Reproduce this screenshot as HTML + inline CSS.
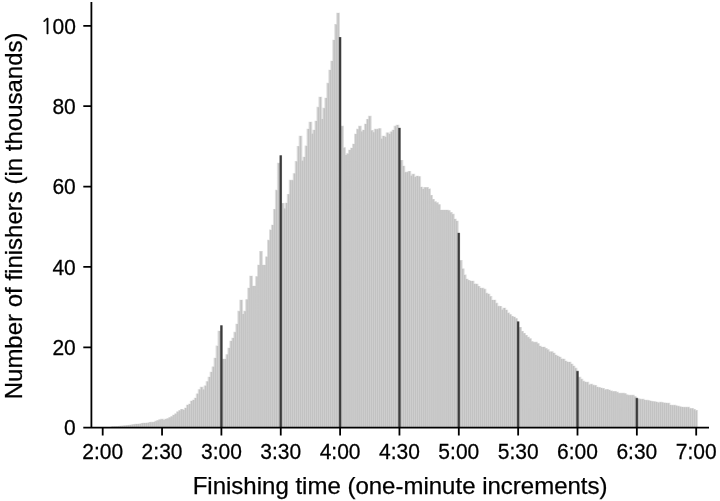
<!DOCTYPE html>
<html><head><meta charset="utf-8"><title>Marathon finishing times</title>
<style>html,body{margin:0;padding:0;background:#fff;}body{width:720px;height:501px;overflow:hidden;}svg{display:block;}</style>
</head><body><svg width="720" height="501" viewBox="0 0 720 501" font-family="'Liberation Sans', Arial, Helvetica, sans-serif"><path fill="#c2c2c2" fill-opacity="0.55" d="M110.72 426.25h3.75V427.6h-3.75zM112.69 426.15h3.75V427.6h-3.75zM114.67 426.05h3.75V427.6h-3.75zM116.65 425.95h3.75V427.6h-3.75zM118.63 425.75h3.75V427.6h-3.75zM120.61 425.55h3.75V427.6h-3.75zM122.59 425.35h3.75V427.6h-3.75zM124.56 425.15h3.75V427.6h-3.75zM126.54 424.95h3.75V427.6h-3.75zM128.52 424.75h3.75V427.6h-3.75zM130.50 424.45h3.75V427.6h-3.75zM132.48 424.05h3.75V427.6h-3.75zM134.46 423.75h3.75V427.6h-3.75zM136.43 423.65h3.75V427.6h-3.75zM138.41 423.55h3.75V427.6h-3.75zM140.39 422.95h3.75V427.6h-3.75zM142.37 422.75h3.75V427.6h-3.75zM144.35 422.75h3.75V427.6h-3.75zM146.33 422.55h3.75V427.6h-3.75zM148.30 421.95h3.75V427.6h-3.75zM150.28 421.85h3.75V427.6h-3.75zM152.26 421.75h3.75V427.6h-3.75zM154.24 420.85h3.75V427.6h-3.75zM156.22 420.05h3.75V427.6h-3.75zM158.20 419.35h3.75V427.6h-3.75zM160.17 418.85h3.75V427.6h-3.75zM162.15 419.75h3.75V427.6h-3.75zM164.13 418.65h3.75V427.6h-3.75zM166.11 418.15h3.75V427.6h-3.75zM168.09 417.25h3.75V427.6h-3.75zM170.07 416.15h3.75V427.6h-3.75zM172.04 414.65h3.75V427.6h-3.75zM174.02 413.45h3.75V427.6h-3.75zM176.00 411.45h3.75V427.6h-3.75zM177.98 410.15h3.75V427.6h-3.75zM179.96 408.95h3.75V427.6h-3.75zM181.94 409.65h3.75V427.6h-3.75zM183.91 407.75h3.75V427.6h-3.75zM185.89 404.75h3.75V427.6h-3.75zM187.87 403.75h3.75V427.6h-3.75zM189.85 400.65h3.75V427.6h-3.75zM191.83 399.65h3.75V427.6h-3.75zM193.81 397.65h3.75V427.6h-3.75zM195.78 393.45h3.75V427.6h-3.75zM197.76 389.25h3.75V427.6h-3.75zM199.74 386.85h3.75V427.6h-3.75zM201.72 389.25h3.75V427.6h-3.75zM203.70 385.45h3.75V427.6h-3.75zM205.67 381.25h3.75V427.6h-3.75zM207.65 376.65h3.75V427.6h-3.75zM209.63 371.75h3.75V427.6h-3.75zM211.61 366.45h3.75V427.6h-3.75zM213.59 357.65h3.75V427.6h-3.75zM215.57 345.55h3.75V427.6h-3.75zM217.54 330.65h3.75V427.6h-3.75zM221.50 358.65h3.75V427.6h-3.75zM223.48 358.65h3.75V427.6h-3.75zM225.46 354.15h3.75V427.6h-3.75zM227.44 347.75h3.75V427.6h-3.75zM229.41 340.75h3.75V427.6h-3.75zM231.39 337.75h3.75V427.6h-3.75zM233.37 331.85h3.75V427.6h-3.75zM235.35 323.75h3.75V427.6h-3.75zM237.33 310.85h3.75V427.6h-3.75zM239.31 299.65h3.75V427.6h-3.75zM241.28 313.65h3.75V427.6h-3.75zM243.26 310.85h3.75V427.6h-3.75zM245.24 299.25h3.75V427.6h-3.75zM247.22 287.65h3.75V427.6h-3.75zM249.20 275.75h3.75V427.6h-3.75zM251.18 285.65h3.75V427.6h-3.75zM253.15 285.65h3.75V427.6h-3.75zM255.13 276.15h3.75V427.6h-3.75zM257.11 264.65h3.75V427.6h-3.75zM259.09 251.05h3.75V427.6h-3.75zM261.07 264.65h3.75V427.6h-3.75zM263.05 264.65h3.75V427.6h-3.75zM265.02 256.45h3.75V427.6h-3.75zM267.00 239.85h3.75V427.6h-3.75zM268.98 229.55h3.75V427.6h-3.75zM270.96 224.75h3.75V427.6h-3.75zM272.94 208.95h3.75V427.6h-3.75zM274.92 189.85h3.75V427.6h-3.75zM276.89 162.85h3.75V427.6h-3.75zM280.85 202.95h3.75V427.6h-3.75zM282.83 208.25h3.75V427.6h-3.75zM284.81 202.65h3.75V427.6h-3.75zM286.79 193.95h3.75V427.6h-3.75zM288.76 179.85h3.75V427.6h-3.75zM290.74 179.85h3.75V427.6h-3.75zM292.72 173.15h3.75V427.6h-3.75zM294.70 161.05h3.75V427.6h-3.75zM296.68 145.95h3.75V427.6h-3.75zM298.65 135.65h3.75V427.6h-3.75zM300.63 160.35h3.75V427.6h-3.75zM302.61 156.65h3.75V427.6h-3.75zM304.59 145.55h3.75V427.6h-3.75zM306.57 128.75h3.75V427.6h-3.75zM308.55 121.75h3.75V427.6h-3.75zM310.52 133.35h3.75V427.6h-3.75zM312.50 129.75h3.75V427.6h-3.75zM314.48 120.65h3.75V427.6h-3.75zM316.46 106.85h3.75V427.6h-3.75zM318.44 96.75h3.75V427.6h-3.75zM320.42 118.65h3.75V427.6h-3.75zM322.39 107.85h3.75V427.6h-3.75zM324.37 97.75h3.75V427.6h-3.75zM326.35 82.85h3.75V427.6h-3.75zM328.33 69.65h3.75V427.6h-3.75zM330.31 60.65h3.75V427.6h-3.75zM332.29 39.65h3.75V427.6h-3.75zM334.26 24.05h3.75V427.6h-3.75zM336.24 12.75h3.75V427.6h-3.75zM340.20 125.85h3.75V427.6h-3.75zM342.18 147.35h3.75V427.6h-3.75zM344.16 154.55h3.75V427.6h-3.75zM346.13 153.35h3.75V427.6h-3.75zM348.11 149.75h3.75V427.6h-3.75zM350.09 147.75h3.75V427.6h-3.75zM352.07 143.75h3.75V427.6h-3.75zM354.05 133.65h3.75V427.6h-3.75zM356.03 128.85h3.75V427.6h-3.75zM358.00 125.85h3.75V427.6h-3.75zM359.98 131.25h3.75V427.6h-3.75zM361.96 129.75h3.75V427.6h-3.75zM363.94 123.75h3.75V427.6h-3.75zM365.92 118.95h3.75V427.6h-3.75zM367.90 115.85h3.75V427.6h-3.75zM369.87 130.05h3.75V427.6h-3.75zM371.85 131.85h3.75V427.6h-3.75zM373.83 128.85h3.75V427.6h-3.75zM375.81 128.85h3.75V427.6h-3.75zM377.79 128.25h3.75V427.6h-3.75zM379.77 138.35h3.75V427.6h-3.75zM381.74 135.75h3.75V427.6h-3.75zM383.72 136.55h3.75V427.6h-3.75zM385.70 132.45h3.75V427.6h-3.75zM387.68 133.65h3.75V427.6h-3.75zM389.66 131.45h3.75V427.6h-3.75zM391.64 129.75h3.75V427.6h-3.75zM393.61 125.85h3.75V427.6h-3.75zM395.59 124.65h3.75V427.6h-3.75zM399.55 159.95h3.75V427.6h-3.75zM401.53 165.65h3.75V427.6h-3.75zM403.50 171.85h3.75V427.6h-3.75zM405.48 171.85h3.75V427.6h-3.75zM407.46 170.95h3.75V427.6h-3.75zM409.44 175.35h3.75V427.6h-3.75zM411.42 173.85h3.75V427.6h-3.75zM413.40 176.65h3.75V427.6h-3.75zM415.37 175.75h3.75V427.6h-3.75zM417.35 176.25h3.75V427.6h-3.75zM419.33 186.75h3.75V427.6h-3.75zM421.31 188.55h3.75V427.6h-3.75zM423.29 187.05h3.75V427.6h-3.75zM425.27 187.05h3.75V427.6h-3.75zM427.24 188.55h3.75V427.6h-3.75zM429.22 194.95h3.75V427.6h-3.75zM431.20 198.95h3.75V427.6h-3.75zM433.18 201.35h3.75V427.6h-3.75zM435.16 202.35h3.75V427.6h-3.75zM437.14 204.15h3.75V427.6h-3.75zM439.11 209.65h3.75V427.6h-3.75zM441.09 209.65h3.75V427.6h-3.75zM443.07 209.65h3.75V427.6h-3.75zM445.05 209.65h3.75V427.6h-3.75zM447.03 210.25h3.75V427.6h-3.75zM449.01 212.05h3.75V427.6h-3.75zM450.98 213.85h3.75V427.6h-3.75zM452.96 218.65h3.75V427.6h-3.75zM454.94 220.75h3.75V427.6h-3.75zM458.90 260.05h3.75V427.6h-3.75zM460.88 268.45h3.75V427.6h-3.75zM462.85 274.55h3.75V427.6h-3.75zM464.83 278.75h3.75V427.6h-3.75zM466.81 279.95h3.75V427.6h-3.75zM468.79 280.75h3.75V427.6h-3.75zM470.77 280.75h3.75V427.6h-3.75zM472.75 283.55h3.75V427.6h-3.75zM474.72 283.75h3.75V427.6h-3.75zM476.70 285.95h3.75V427.6h-3.75zM478.68 287.65h3.75V427.6h-3.75zM480.66 287.85h3.75V427.6h-3.75zM482.64 288.85h3.75V427.6h-3.75zM484.62 292.85h3.75V427.6h-3.75zM486.59 293.75h3.75V427.6h-3.75zM488.57 296.05h3.75V427.6h-3.75zM490.55 299.75h3.75V427.6h-3.75zM492.53 299.75h3.75V427.6h-3.75zM494.51 302.85h3.75V427.6h-3.75zM496.48 305.85h3.75V427.6h-3.75zM498.46 305.95h3.75V427.6h-3.75zM500.44 309.35h3.75V427.6h-3.75zM502.42 307.75h3.75V427.6h-3.75zM504.40 309.65h3.75V427.6h-3.75zM506.38 312.55h3.75V427.6h-3.75zM508.35 314.15h3.75V427.6h-3.75zM510.33 315.95h3.75V427.6h-3.75zM512.31 316.65h3.75V427.6h-3.75zM514.29 318.15h3.75V427.6h-3.75zM518.25 326.95h3.75V427.6h-3.75zM520.22 330.95h3.75V427.6h-3.75zM522.20 332.95h3.75V427.6h-3.75zM524.18 334.95h3.75V427.6h-3.75zM526.16 336.85h3.75V427.6h-3.75zM528.14 338.35h3.75V427.6h-3.75zM530.12 341.15h3.75V427.6h-3.75zM532.09 341.85h3.75V427.6h-3.75zM534.07 341.85h3.75V427.6h-3.75zM536.05 343.15h3.75V427.6h-3.75zM538.03 345.75h3.75V427.6h-3.75zM540.01 346.75h3.75V427.6h-3.75zM541.99 346.75h3.75V427.6h-3.75zM543.96 348.05h3.75V427.6h-3.75zM545.94 349.35h3.75V427.6h-3.75zM547.92 351.35h3.75V427.6h-3.75zM549.90 351.35h3.75V427.6h-3.75zM551.88 352.75h3.75V427.6h-3.75zM553.86 354.75h3.75V427.6h-3.75zM555.83 355.75h3.75V427.6h-3.75zM557.81 356.75h3.75V427.6h-3.75zM559.79 358.55h3.75V427.6h-3.75zM561.77 358.75h3.75V427.6h-3.75zM563.75 360.75h3.75V427.6h-3.75zM565.73 361.75h3.75V427.6h-3.75zM567.70 361.75h3.75V427.6h-3.75zM569.68 363.65h3.75V427.6h-3.75zM571.66 365.65h3.75V427.6h-3.75zM573.64 367.85h3.75V427.6h-3.75zM577.60 376.85h3.75V427.6h-3.75zM579.57 378.85h3.75V427.6h-3.75zM581.55 380.85h3.75V427.6h-3.75zM583.53 381.65h3.75V427.6h-3.75zM585.51 381.85h3.75V427.6h-3.75zM587.49 384.45h3.75V427.6h-3.75zM589.47 383.85h3.75V427.6h-3.75zM591.44 384.85h3.75V427.6h-3.75zM593.42 385.05h3.75V427.6h-3.75zM595.40 386.75h3.75V427.6h-3.75zM597.38 387.05h3.75V427.6h-3.75zM599.36 387.75h3.75V427.6h-3.75zM601.33 388.05h3.75V427.6h-3.75zM603.31 389.35h3.75V427.6h-3.75zM605.29 389.05h3.75V427.6h-3.75zM607.27 389.75h3.75V427.6h-3.75zM609.25 390.55h3.75V427.6h-3.75zM611.23 391.05h3.75V427.6h-3.75zM613.20 391.05h3.75V427.6h-3.75zM615.18 391.85h3.75V427.6h-3.75zM617.16 392.95h3.75V427.6h-3.75zM619.14 392.85h3.75V427.6h-3.75zM621.12 392.85h3.75V427.6h-3.75zM623.10 393.15h3.75V427.6h-3.75zM625.07 394.45h3.75V427.6h-3.75zM627.05 394.85h3.75V427.6h-3.75zM629.03 394.85h3.75V427.6h-3.75zM631.01 394.85h3.75V427.6h-3.75zM632.99 396.15h3.75V427.6h-3.75zM636.94 398.45h3.75V427.6h-3.75zM638.92 398.85h3.75V427.6h-3.75zM640.90 398.85h3.75V427.6h-3.75zM642.88 399.65h3.75V427.6h-3.75zM644.86 399.85h3.75V427.6h-3.75zM646.84 400.15h3.75V427.6h-3.75zM648.81 400.75h3.75V427.6h-3.75zM650.79 401.05h3.75V427.6h-3.75zM652.77 401.35h3.75V427.6h-3.75zM654.75 401.75h3.75V427.6h-3.75zM656.73 402.35h3.75V427.6h-3.75zM658.71 401.85h3.75V427.6h-3.75zM660.68 402.25h3.75V427.6h-3.75zM662.66 402.55h3.75V427.6h-3.75zM664.64 402.65h3.75V427.6h-3.75zM666.62 402.85h3.75V427.6h-3.75zM668.60 404.65h3.75V427.6h-3.75zM670.58 404.85h3.75V427.6h-3.75zM672.55 404.85h3.75V427.6h-3.75zM674.53 405.45h3.75V427.6h-3.75zM676.51 405.85h3.75V427.6h-3.75zM678.49 406.45h3.75V427.6h-3.75zM680.47 406.65h3.75V427.6h-3.75zM682.45 406.85h3.75V427.6h-3.75zM684.42 406.85h3.75V427.6h-3.75zM686.40 406.85h3.75V427.6h-3.75zM688.38 408.05h3.75V427.6h-3.75zM690.36 408.05h3.75V427.6h-3.75zM692.34 409.05h3.75V427.6h-3.75zM694.32 410.05h3.75V427.6h-3.75z"/><path fill="#c2c2c2" d="M111.82 426.60h1.55V427.6h-1.55zM113.79 426.50h1.55V427.6h-1.55zM115.77 426.40h1.55V427.6h-1.55zM117.75 426.30h1.55V427.6h-1.55zM119.73 426.10h1.55V427.6h-1.55zM121.71 425.90h1.55V427.6h-1.55zM123.69 425.70h1.55V427.6h-1.55zM125.66 425.50h1.55V427.6h-1.55zM127.64 425.30h1.55V427.6h-1.55zM129.62 425.10h1.55V427.6h-1.55zM131.60 424.80h1.55V427.6h-1.55zM133.58 424.40h1.55V427.6h-1.55zM135.56 424.10h1.55V427.6h-1.55zM137.53 424.00h1.55V427.6h-1.55zM139.51 423.90h1.55V427.6h-1.55zM141.49 423.30h1.55V427.6h-1.55zM143.47 423.10h1.55V427.6h-1.55zM145.45 423.10h1.55V427.6h-1.55zM147.43 422.90h1.55V427.6h-1.55zM149.40 422.30h1.55V427.6h-1.55zM151.38 422.20h1.55V427.6h-1.55zM153.36 422.10h1.55V427.6h-1.55zM155.34 421.20h1.55V427.6h-1.55zM157.32 420.40h1.55V427.6h-1.55zM159.30 419.70h1.55V427.6h-1.55zM161.27 419.20h1.55V427.6h-1.55zM163.25 420.10h1.55V427.6h-1.55zM165.23 419.00h1.55V427.6h-1.55zM167.21 418.50h1.55V427.6h-1.55zM169.19 417.60h1.55V427.6h-1.55zM171.17 416.50h1.55V427.6h-1.55zM173.14 415.00h1.55V427.6h-1.55zM175.12 413.80h1.55V427.6h-1.55zM177.10 411.80h1.55V427.6h-1.55zM179.08 410.50h1.55V427.6h-1.55zM181.06 409.30h1.55V427.6h-1.55zM183.04 410.00h1.55V427.6h-1.55zM185.01 408.10h1.55V427.6h-1.55zM186.99 405.10h1.55V427.6h-1.55zM188.97 404.10h1.55V427.6h-1.55zM190.95 401.00h1.55V427.6h-1.55zM192.93 400.00h1.55V427.6h-1.55zM194.91 398.00h1.55V427.6h-1.55zM196.88 393.80h1.55V427.6h-1.55zM198.86 389.60h1.55V427.6h-1.55zM200.84 387.20h1.55V427.6h-1.55zM202.82 389.60h1.55V427.6h-1.55zM204.80 385.80h1.55V427.6h-1.55zM206.77 381.60h1.55V427.6h-1.55zM208.75 377.00h1.55V427.6h-1.55zM210.73 372.10h1.55V427.6h-1.55zM212.71 366.80h1.55V427.6h-1.55zM214.69 358.00h1.55V427.6h-1.55zM216.67 345.90h1.55V427.6h-1.55zM218.64 331.00h1.55V427.6h-1.55zM222.60 359.00h1.55V427.6h-1.55zM224.58 359.00h1.55V427.6h-1.55zM226.56 354.50h1.55V427.6h-1.55zM228.54 348.10h1.55V427.6h-1.55zM230.51 341.10h1.55V427.6h-1.55zM232.49 338.10h1.55V427.6h-1.55zM234.47 332.20h1.55V427.6h-1.55zM236.45 324.10h1.55V427.6h-1.55zM238.43 311.20h1.55V427.6h-1.55zM240.41 300.00h1.55V427.6h-1.55zM242.38 314.00h1.55V427.6h-1.55zM244.36 311.20h1.55V427.6h-1.55zM246.34 299.60h1.55V427.6h-1.55zM248.32 288.00h1.55V427.6h-1.55zM250.30 276.10h1.55V427.6h-1.55zM252.28 286.00h1.55V427.6h-1.55zM254.25 286.00h1.55V427.6h-1.55zM256.23 276.50h1.55V427.6h-1.55zM258.21 265.00h1.55V427.6h-1.55zM260.19 251.40h1.55V427.6h-1.55zM262.17 265.00h1.55V427.6h-1.55zM264.15 265.00h1.55V427.6h-1.55zM266.12 256.80h1.55V427.6h-1.55zM268.10 240.20h1.55V427.6h-1.55zM270.08 229.90h1.55V427.6h-1.55zM272.06 225.10h1.55V427.6h-1.55zM274.04 209.30h1.55V427.6h-1.55zM276.02 190.20h1.55V427.6h-1.55zM277.99 163.20h1.55V427.6h-1.55zM281.95 203.30h1.55V427.6h-1.55zM283.93 208.60h1.55V427.6h-1.55zM285.91 203.00h1.55V427.6h-1.55zM287.89 194.30h1.55V427.6h-1.55zM289.86 180.20h1.55V427.6h-1.55zM291.84 180.20h1.55V427.6h-1.55zM293.82 173.50h1.55V427.6h-1.55zM295.80 161.40h1.55V427.6h-1.55zM297.78 146.30h1.55V427.6h-1.55zM299.75 136.00h1.55V427.6h-1.55zM301.73 160.70h1.55V427.6h-1.55zM303.71 157.00h1.55V427.6h-1.55zM305.69 145.90h1.55V427.6h-1.55zM307.67 129.10h1.55V427.6h-1.55zM309.65 122.10h1.55V427.6h-1.55zM311.62 133.70h1.55V427.6h-1.55zM313.60 130.10h1.55V427.6h-1.55zM315.58 121.00h1.55V427.6h-1.55zM317.56 107.20h1.55V427.6h-1.55zM319.54 97.10h1.55V427.6h-1.55zM321.52 119.00h1.55V427.6h-1.55zM323.49 108.20h1.55V427.6h-1.55zM325.47 98.10h1.55V427.6h-1.55zM327.45 83.20h1.55V427.6h-1.55zM329.43 70.00h1.55V427.6h-1.55zM331.41 61.00h1.55V427.6h-1.55zM333.39 40.00h1.55V427.6h-1.55zM335.36 24.40h1.55V427.6h-1.55zM337.34 13.10h1.55V427.6h-1.55zM341.30 126.20h1.55V427.6h-1.55zM343.28 147.70h1.55V427.6h-1.55zM345.26 154.90h1.55V427.6h-1.55zM347.23 153.70h1.55V427.6h-1.55zM349.21 150.10h1.55V427.6h-1.55zM351.19 148.10h1.55V427.6h-1.55zM353.17 144.10h1.55V427.6h-1.55zM355.15 134.00h1.55V427.6h-1.55zM357.13 129.20h1.55V427.6h-1.55zM359.10 126.20h1.55V427.6h-1.55zM361.08 131.60h1.55V427.6h-1.55zM363.06 130.10h1.55V427.6h-1.55zM365.04 124.10h1.55V427.6h-1.55zM367.02 119.30h1.55V427.6h-1.55zM369.00 116.20h1.55V427.6h-1.55zM370.97 130.40h1.55V427.6h-1.55zM372.95 132.20h1.55V427.6h-1.55zM374.93 129.20h1.55V427.6h-1.55zM376.91 129.20h1.55V427.6h-1.55zM378.89 128.60h1.55V427.6h-1.55zM380.87 138.70h1.55V427.6h-1.55zM382.84 136.10h1.55V427.6h-1.55zM384.82 136.90h1.55V427.6h-1.55zM386.80 132.80h1.55V427.6h-1.55zM388.78 134.00h1.55V427.6h-1.55zM390.76 131.80h1.55V427.6h-1.55zM392.74 130.10h1.55V427.6h-1.55zM394.71 126.20h1.55V427.6h-1.55zM396.69 125.00h1.55V427.6h-1.55zM400.65 160.30h1.55V427.6h-1.55zM402.63 166.00h1.55V427.6h-1.55zM404.60 172.20h1.55V427.6h-1.55zM406.58 172.20h1.55V427.6h-1.55zM408.56 171.30h1.55V427.6h-1.55zM410.54 175.70h1.55V427.6h-1.55zM412.52 174.20h1.55V427.6h-1.55zM414.50 177.00h1.55V427.6h-1.55zM416.47 176.10h1.55V427.6h-1.55zM418.45 176.60h1.55V427.6h-1.55zM420.43 187.10h1.55V427.6h-1.55zM422.41 188.90h1.55V427.6h-1.55zM424.39 187.40h1.55V427.6h-1.55zM426.37 187.40h1.55V427.6h-1.55zM428.34 188.90h1.55V427.6h-1.55zM430.32 195.30h1.55V427.6h-1.55zM432.30 199.30h1.55V427.6h-1.55zM434.28 201.70h1.55V427.6h-1.55zM436.26 202.70h1.55V427.6h-1.55zM438.24 204.50h1.55V427.6h-1.55zM440.21 210.00h1.55V427.6h-1.55zM442.19 210.00h1.55V427.6h-1.55zM444.17 210.00h1.55V427.6h-1.55zM446.15 210.00h1.55V427.6h-1.55zM448.13 210.60h1.55V427.6h-1.55zM450.11 212.40h1.55V427.6h-1.55zM452.08 214.20h1.55V427.6h-1.55zM454.06 219.00h1.55V427.6h-1.55zM456.04 221.10h1.55V427.6h-1.55zM460.00 260.40h1.55V427.6h-1.55zM461.98 268.80h1.55V427.6h-1.55zM463.95 274.90h1.55V427.6h-1.55zM465.93 279.10h1.55V427.6h-1.55zM467.91 280.30h1.55V427.6h-1.55zM469.89 281.10h1.55V427.6h-1.55zM471.87 281.10h1.55V427.6h-1.55zM473.85 283.90h1.55V427.6h-1.55zM475.82 284.10h1.55V427.6h-1.55zM477.80 286.30h1.55V427.6h-1.55zM479.78 288.00h1.55V427.6h-1.55zM481.76 288.20h1.55V427.6h-1.55zM483.74 289.20h1.55V427.6h-1.55zM485.72 293.20h1.55V427.6h-1.55zM487.69 294.10h1.55V427.6h-1.55zM489.67 296.40h1.55V427.6h-1.55zM491.65 300.10h1.55V427.6h-1.55zM493.63 300.10h1.55V427.6h-1.55zM495.61 303.20h1.55V427.6h-1.55zM497.58 306.20h1.55V427.6h-1.55zM499.56 306.30h1.55V427.6h-1.55zM501.54 309.70h1.55V427.6h-1.55zM503.52 308.10h1.55V427.6h-1.55zM505.50 310.00h1.55V427.6h-1.55zM507.48 312.90h1.55V427.6h-1.55zM509.45 314.50h1.55V427.6h-1.55zM511.43 316.30h1.55V427.6h-1.55zM513.41 317.00h1.55V427.6h-1.55zM515.39 318.50h1.55V427.6h-1.55zM519.35 327.30h1.55V427.6h-1.55zM521.32 331.30h1.55V427.6h-1.55zM523.30 333.30h1.55V427.6h-1.55zM525.28 335.30h1.55V427.6h-1.55zM527.26 337.20h1.55V427.6h-1.55zM529.24 338.70h1.55V427.6h-1.55zM531.22 341.50h1.55V427.6h-1.55zM533.19 342.20h1.55V427.6h-1.55zM535.17 342.20h1.55V427.6h-1.55zM537.15 343.50h1.55V427.6h-1.55zM539.13 346.10h1.55V427.6h-1.55zM541.11 347.10h1.55V427.6h-1.55zM543.09 347.10h1.55V427.6h-1.55zM545.06 348.40h1.55V427.6h-1.55zM547.04 349.70h1.55V427.6h-1.55zM549.02 351.70h1.55V427.6h-1.55zM551.00 351.70h1.55V427.6h-1.55zM552.98 353.10h1.55V427.6h-1.55zM554.96 355.10h1.55V427.6h-1.55zM556.93 356.10h1.55V427.6h-1.55zM558.91 357.10h1.55V427.6h-1.55zM560.89 358.90h1.55V427.6h-1.55zM562.87 359.10h1.55V427.6h-1.55zM564.85 361.10h1.55V427.6h-1.55zM566.83 362.10h1.55V427.6h-1.55zM568.80 362.10h1.55V427.6h-1.55zM570.78 364.00h1.55V427.6h-1.55zM572.76 366.00h1.55V427.6h-1.55zM574.74 368.20h1.55V427.6h-1.55zM578.70 377.20h1.55V427.6h-1.55zM580.67 379.20h1.55V427.6h-1.55zM582.65 381.20h1.55V427.6h-1.55zM584.63 382.00h1.55V427.6h-1.55zM586.61 382.20h1.55V427.6h-1.55zM588.59 384.80h1.55V427.6h-1.55zM590.57 384.20h1.55V427.6h-1.55zM592.54 385.20h1.55V427.6h-1.55zM594.52 385.40h1.55V427.6h-1.55zM596.50 387.10h1.55V427.6h-1.55zM598.48 387.40h1.55V427.6h-1.55zM600.46 388.10h1.55V427.6h-1.55zM602.43 388.40h1.55V427.6h-1.55zM604.41 389.70h1.55V427.6h-1.55zM606.39 389.40h1.55V427.6h-1.55zM608.37 390.10h1.55V427.6h-1.55zM610.35 390.90h1.55V427.6h-1.55zM612.33 391.40h1.55V427.6h-1.55zM614.30 391.40h1.55V427.6h-1.55zM616.28 392.20h1.55V427.6h-1.55zM618.26 393.30h1.55V427.6h-1.55zM620.24 393.20h1.55V427.6h-1.55zM622.22 393.20h1.55V427.6h-1.55zM624.20 393.50h1.55V427.6h-1.55zM626.17 394.80h1.55V427.6h-1.55zM628.15 395.20h1.55V427.6h-1.55zM630.13 395.20h1.55V427.6h-1.55zM632.11 395.20h1.55V427.6h-1.55zM634.09 396.50h1.55V427.6h-1.55zM638.04 398.80h1.55V427.6h-1.55zM640.02 399.20h1.55V427.6h-1.55zM642.00 399.20h1.55V427.6h-1.55zM643.98 400.00h1.55V427.6h-1.55zM645.96 400.20h1.55V427.6h-1.55zM647.94 400.50h1.55V427.6h-1.55zM649.91 401.10h1.55V427.6h-1.55zM651.89 401.40h1.55V427.6h-1.55zM653.87 401.70h1.55V427.6h-1.55zM655.85 402.10h1.55V427.6h-1.55zM657.83 402.70h1.55V427.6h-1.55zM659.81 402.20h1.55V427.6h-1.55zM661.78 402.60h1.55V427.6h-1.55zM663.76 402.90h1.55V427.6h-1.55zM665.74 403.00h1.55V427.6h-1.55zM667.72 403.20h1.55V427.6h-1.55zM669.70 405.00h1.55V427.6h-1.55zM671.68 405.20h1.55V427.6h-1.55zM673.65 405.20h1.55V427.6h-1.55zM675.63 405.80h1.55V427.6h-1.55zM677.61 406.20h1.55V427.6h-1.55zM679.59 406.80h1.55V427.6h-1.55zM681.57 407.00h1.55V427.6h-1.55zM683.55 407.20h1.55V427.6h-1.55zM685.52 407.20h1.55V427.6h-1.55zM687.50 407.20h1.55V427.6h-1.55zM689.48 408.40h1.55V427.6h-1.55zM691.46 408.40h1.55V427.6h-1.55zM693.44 409.40h1.55V427.6h-1.55zM695.42 410.40h1.55V427.6h-1.55z"/><path fill="#3a3a3a" fill-opacity="0.55" d="M220.10 325.25h2.60V427.6h-2.60zM279.45 155.25h2.60V427.6h-2.60zM338.80 36.95h2.60V427.6h-2.60zM398.14 127.65h2.60V427.6h-2.60zM457.49 232.75h2.60V427.6h-2.60zM516.84 321.35h2.60V427.6h-2.60zM576.19 370.85h2.60V427.6h-2.60zM635.54 397.85h2.60V427.6h-2.60z"/><path fill="#3a3a3a" d="M220.45 325.60h1.90V427.6h-1.90zM279.80 155.60h1.90V427.6h-1.90zM339.15 37.30h1.90V427.6h-1.90zM398.50 128.00h1.90V427.6h-1.90zM457.84 233.10h1.90V427.6h-1.90zM517.19 321.70h1.90V427.6h-1.90zM576.54 371.20h1.90V427.6h-1.90zM635.89 398.20h1.90V427.6h-1.90z"/><path fill="none" stroke="#000" stroke-width="1.8" d="M91.4 2V427.6M83.3 427.6H709M83.3 427.70H91.4M83.3 347.32H91.4M83.3 266.94H91.4M83.3 186.56H91.4M83.3 106.18H91.4M83.3 25.80H91.4M102.70 427.6V435.4M162.05 427.6V435.4M221.40 427.6V435.4M280.75 427.6V435.4M340.10 427.6V435.4M399.45 427.6V435.4M458.80 427.6V435.4M518.15 427.6V435.4M577.50 427.6V435.4M636.85 427.6V435.4M696.20 427.6V435.4"/><g fill="#000" stroke="#000" stroke-width="0.25"><text transform="translate(75.8 435.45) scale(1 1.055)" text-anchor="end" font-size="21">0</text><text transform="translate(75.8 355.07) scale(1 1.055)" text-anchor="end" font-size="21">20</text><text transform="translate(75.8 274.69) scale(1 1.055)" text-anchor="end" font-size="21">40</text><text transform="translate(75.8 194.31) scale(1 1.055)" text-anchor="end" font-size="21">60</text><text transform="translate(75.8 113.93) scale(1 1.055)" text-anchor="end" font-size="21">80</text><text transform="translate(75.8 33.55) scale(1 1.055)" font-size="21"><tspan x="-35.2" font-family="NanumGothic, 'Liberation Sans', sans-serif">1</tspan><tspan x="-23.3">00</tspan></text><text transform="translate(102.70 459.2) scale(1 1.055)" text-anchor="middle" font-size="21">2:00</text><text transform="translate(162.05 459.2) scale(1 1.055)" text-anchor="middle" font-size="21">2:30</text><text transform="translate(221.40 459.2) scale(1 1.055)" text-anchor="middle" font-size="21">3:00</text><text transform="translate(280.75 459.2) scale(1 1.055)" text-anchor="middle" font-size="21">3:30</text><text transform="translate(340.10 459.2) scale(1 1.055)" text-anchor="middle" font-size="21">4:00</text><text transform="translate(399.45 459.2) scale(1 1.055)" text-anchor="middle" font-size="21">4:30</text><text transform="translate(458.80 459.2) scale(1 1.055)" text-anchor="middle" font-size="21">5:00</text><text transform="translate(518.15 459.2) scale(1 1.055)" text-anchor="middle" font-size="21">5:30</text><text transform="translate(577.50 459.2) scale(1 1.055)" text-anchor="middle" font-size="21">6:00</text><text transform="translate(636.85 459.2) scale(1 1.055)" text-anchor="middle" font-size="21">6:30</text><text transform="translate(696.20 459.2) scale(1 1.055)" text-anchor="middle" font-size="21">7:00</text><text x="192.7" y="493.8" font-size="24">Finishing time (one-minute increments)</text><text transform="translate(22.1,399.3) rotate(-90)" font-size="24">Number of finishers (in thousands)</text></g></svg></body></html>
